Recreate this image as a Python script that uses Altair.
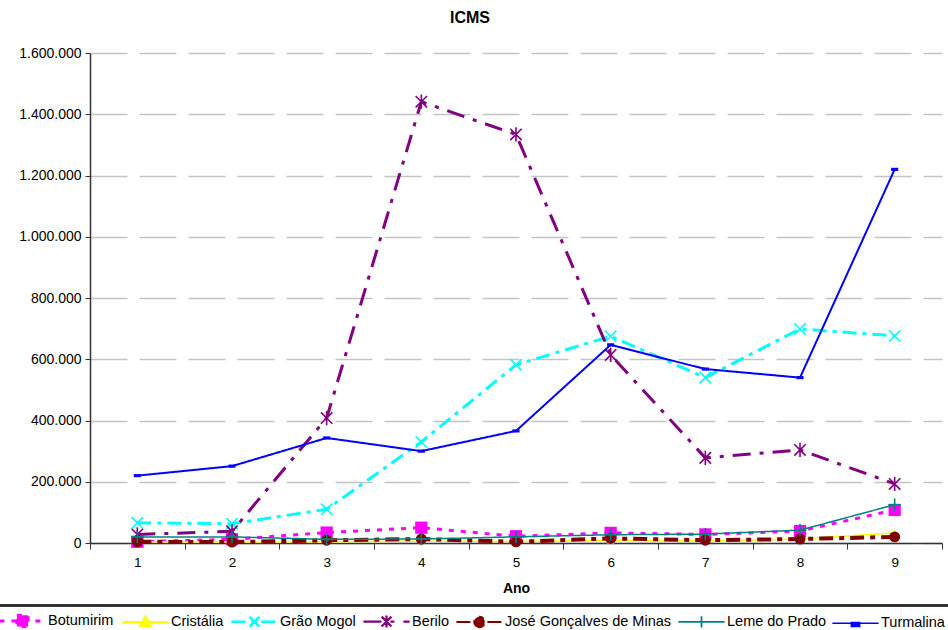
import altair as alt
import pandas as pd

# ICMS collected per municipality, years 1-9
years = [1, 2, 3, 4, 5, 6, 7, 8, 9]
series = ["Botumirim", "Cristália", "Grão Mogol", "Berilo",
          "José Gonçalves de Minas", "Leme do Prado", "Turmalina"]

botumirim = [4000, 12000, 34000, 50000, 22000, 33000, 28000, 39000, 108000]
cristalia = [3000, 3000, 4000, 6000, 5000, 8000, 7000, 13000, 33000]
grao_mogol = [66000, 63000, 110000, 330000, 582000, 675000, 540000, 699000, 676000]
berilo = [28000, 38000, 408000, 1441000, 1334000, 614000, 278000, 304000, 193000]
jose_goncalves = [4000, 3000, 9000, 13000, 4000, 15000, 9000, 13000, 20000]
leme_do_prado = [20000, 20000, 12000, 13000, 20000, 27000, 29000, 42000, 125000]
turmalina = [220000, 251000, 343000, 300000, 366000, 647000, 568000, 540000, 1220000]

values = [botumirim, cristalia, grao_mogol, berilo,
          jose_goncalves, leme_do_prado, turmalina]

rows = []
for name, vals in zip(series, values):
    for ano, v in zip(years, vals):
        rows.append({"Município": name, "Ano": ano, "ICMS": v})
df = pd.DataFrame(rows)

# Per-series drawing style (Excel-like palette)
colors = ["#ff00ff", "#ffff00", "#00ffff", "#800080", "#800000", "#008080", "#0000ff"]
dashes = [[5, 7], [1, 0], [14, 6, 4, 6], [18, 9, 4, 9], [14, 6, 5, 6], [1, 0], [1, 0]]
widths = [3, 1.5, 3, 3, 4, 1.5, 2]
marker_shapes = [
    "square",
    "triangle-up",
    "M-1,-1L1,1M-1,1L1,-1",
    "M-1,-1L1,1M-1,1L1,-1M0,-1.25V1.25",
    "circle",
    "M-1,0H1M0,-1V1",
    "M-1,-0.45H1V0.45H-1Z",
]
marker_sizes = [150, 55, 130, 130, 120, 150, 50]
marker_filled = [True, True, False, False, True, False, True]

# Legend glyphs: a line segment with the marker in the middle (unit = 7 px)
legend_shapes = [
    "M-3.3,0H3.3M-0.8,-0.8H0.8V0.8H-0.8Z",
    "M-3.3,0H3.3M0,-0.7L0.7,0.5H-0.7Z",
    "M-3.3,0H3.3M-0.7,-0.7L0.7,0.7M-0.7,0.7L0.7,-0.7",
    "M-3.3,0H3.3M-0.7,-0.7L0.7,0.7M-0.7,0.7L0.7,-0.7M0,-0.85V0.85",
    "M-3.3,0H3.3M-0.75,0A0.75,0.75,0,1,0,0.75,0A0.75,0.75,0,1,0,-0.75,0Z",
    "M-3.3,0H3.3M0,-0.8V0.8",
    "M-3.3,0H3.3M-0.6,-0.1H0.6V0.45H-0.6Z",
]

FONT = "Liberation Sans"
FRAME = "#333333"

x_enc = alt.X("Ano:O", bandPosition=0.5,
              scale=alt.Scale(type="band", paddingInner=0, paddingOuter=0),
              axis=alt.Axis(title="Ano", labelAngle=0, tickBand="extent", grid=False,
                            labelFontSize=13.5, titleFontSize=14, titleFontWeight="bold",
                            tickSize=6, labelPadding=6, titlePadding=13,
                            domainColor="#333333", tickColor="#333333", domainWidth=1.5))
y_enc = alt.Y("ICMS:Q",
              scale=alt.Scale(domain=[0, 1600000], nice=False),
              axis=alt.Axis(title=None,
                            values=[0, 200000, 400000, 600000, 800000,
                                    1000000, 1200000, 1400000, 1600000],
                            labelExpr="replace(format(datum.value, ',d'), regexp(',', 'g'), '.')",
                            labelFontSize=14, tickSize=5, labelPadding=4,
                            grid=True, gridDash=[37, 12], gridColor="#c4c4c4", gridWidth=1.5,
                            domainColor="#333333", tickColor="#333333", domainWidth=1.5))

base = alt.Chart(df)
layers = []
for i, name in enumerate(series):
    sub = base.transform_filter(alt.datum["Município"] == name)
    layers.append(sub.mark_line(color=colors[i], strokeDash=dashes[i],
                                strokeWidth=widths[i]).encode(x=x_enc, y=y_enc))
    if marker_filled[i]:
        pt = sub.mark_point(shape=marker_shapes[i], size=marker_sizes[i], filled=True,
                            color=colors[i], opacity=1)
    else:
        pt = sub.mark_point(shape=marker_shapes[i], size=marker_sizes[i], filled=False,
                            color=colors[i], strokeWidth=1.6, opacity=1)
    layers.append(pt.encode(x=x_enc, y=y_enc))

# Framed legend row below the axis title
leg = alt.Legend(title=None, orient="none", legendX=-98, legendY=553,
                 direction="horizontal", columns=7, strokeColor=FRAME)
legend_layer = base.transform_filter("false").mark_point(filled=True, opacity=1).encode(
    x=x_enc, y=y_enc,
    fill=alt.Fill("Município:N", scale=alt.Scale(domain=series, range=colors), legend=leg),
    stroke=alt.Stroke("Município:N", scale=alt.Scale(domain=series, range=colors), legend=leg),
    shape=alt.Shape("Município:N", scale=alt.Scale(domain=series, range=legend_shapes), legend=leg),
    strokeDash=alt.StrokeDash("Município:N", scale=alt.Scale(domain=series, range=dashes), legend=leg),
    strokeWidth=alt.StrokeWidth("Município:N", scale=alt.Scale(domain=series, range=widths), legend=leg),
)
layers.append(legend_layer)

# Top edge of the legend frame
edge = pd.DataFrame({"edge": [0]})
layers.append(alt.Chart(edge).mark_rule(color=FRAME, strokeWidth=2, clip=False).encode(
    x=alt.value(-90), x2=alt.value(858), y=alt.value(552)))

chart = alt.layer(*layers).properties(
    width=852, height=490,
    title=alt.TitleParams("ICMS", font=FONT, fontSize=16, fontWeight="bold",
                          anchor="middle", dx=-46, offset=20, color="#000000"),
    autosize=alt.AutoSizeParams(type="none"),
    padding={"left": 90, "top": 53, "right": 6, "bottom": 87},
).configure(
    font=FONT,
).configure_view(
    stroke=None,
).configure_axis(
    labelFont=FONT, titleFont=FONT, labelColor="#000000", titleColor="#000000",
).configure_legend(
    labelFont=FONT, labelFontSize=14.5, labelColor="#000000", labelLimit=400,
    symbolSize=196, symbolOffset=16, labelOffset=17, columnPadding=2,
    padding=6, rowPadding=0, strokeColor=FRAME,
)

chart.save("out.html", embed_options={"renderer": "svg", "actions": False})
